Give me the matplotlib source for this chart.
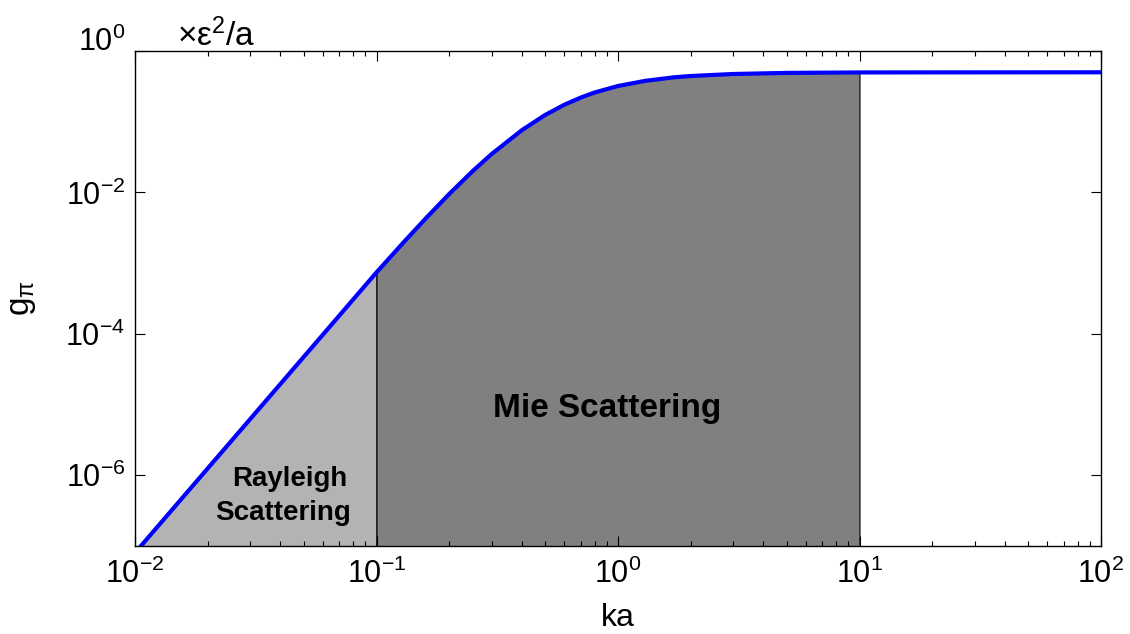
#!/usr/bin/env python3
import numpy as np
import matplotlib
matplotlib.use("Agg")
import matplotlib.pyplot as plt
from matplotlib.ticker import LogLocator, NullLocator, NullFormatter

plt.rcParams['font.family'] = ['Liberation Sans', 'DejaVu Sans']
plt.rcParams['mathtext.fontset'] = 'custom'
plt.rcParams['mathtext.rm'] = 'Liberation Sans'
plt.rcParams['mathtext.it'] = 'Liberation Sans'
plt.rcParams['mathtext.default'] = 'regular'

# --- values (g_pi in units of eps^2/a) ---
ka = [0.01, 0.1, 0.13, 0.16, 0.2, 0.25, 0.3, 0.4, 0.5, 0.6, 0.7, 0.8,
      1.0, 1.3, 1.7, 2.0, 3.0, 5.0, 10.0, 100.0]
g_pi = [8.0e-8, 7.4e-4, 2.0e-3, 4.3e-3, 9.5e-3, 0.020, 0.035, 0.076, 0.125,
        0.174, 0.219, 0.259, 0.32, 0.379, 0.424, 0.443, 0.473, 0.490,
        0.4975, 0.5]

# region limits and labels
rayleigh_range = (0.01, 0.1)
mie_range = (0.1, 10.0)
region_labels = ['Rayleigh', 'Scattering', 'Mie Scattering']

x = np.array(ka)
y = np.array(g_pi)

fig = plt.figure(figsize=(11.3, 6.34), dpi=100)
ax = fig.add_axes([135 / 1130, 88 / 634, 966 / 1130, 495 / 634])

# shaded regions under the curve
m1 = (x >= rayleigh_range[0]) & (x <= rayleigh_range[1])
m2 = (x >= mie_range[0]) & (x <= mie_range[1])
ax.fill_between(x[m1], 1e-9, y[m1], facecolor='#b3b3b3', edgecolor='black',
                linewidth=0.8, zorder=1)
ax.fill_between(x[m2], 1e-9, y[m2], facecolor='#808080', edgecolor='black',
                linewidth=0.8, zorder=1)

ax.plot(x, y, color='#0000ff', linewidth=3.0, zorder=3, solid_capstyle='butt')

ax.set_xscale('log')
ax.set_yscale('log')
ax.set_xlim(1e-2, 1e2)
ax.set_ylim(1e-7, 1e0)

ax.set_yticks([1e-6, 1e-4, 1e-2, 1e0],
              labels=[r'$10^{-6}$', r'$10^{-4}$', r'$10^{-2}$', r'$10^{0}$'])
ax.yaxis.set_minor_locator(NullLocator())
ax.set_xticks([1e-2, 1e-1, 1e0, 1e1, 1e2],
              labels=[r'$10^{-2}$', r'$10^{-1}$', r'$10^{0}$', r'$10^{1}$', r'$10^{2}$'])
ax.xaxis.set_minor_locator(LogLocator(base=10, subs=np.arange(2, 10), numticks=20))
ax.xaxis.set_minor_formatter(NullFormatter())

ax.tick_params(which='both', direction='in', top=True, right=True,
               labelsize=22, width=0.8)
ax.tick_params(which='major', length=7)
ax.tick_params(which='minor', length=3.5)
ax.tick_params(axis='x', pad=9)
ax.tick_params(axis='y', pad=7)
for s in ax.spines.values():
    s.set_linewidth(1.0)

# top y label sits on the axis line, like the reference
ax.yaxis.get_major_ticks()[-1].label1.set_va('baseline')

ax.set_xlabel('ka', fontsize=23)
ax.xaxis.set_label_coords(0.5, -0.115)
ax.set_ylabel(r'g$_{π}$', fontsize=24)
ax.yaxis.set_label_coords(-0.1, 0.5)

ax.text(0.0435, 1.009, r'×ε$^{2}$/a', transform=ax.transAxes, fontsize=24,
        ha='left', va='baseline')

ax.text(0.0438, 7.0e-7, region_labels[0], fontsize=20, fontweight='bold',
        ha='center', va='baseline', zorder=4)
ax.text(0.041, 2.3e-7, region_labels[1], fontsize=20, fontweight='bold',
        ha='center', va='baseline', zorder=4)
ax.text(0.90, 6.7e-6, region_labels[2], fontsize=24, fontweight='bold',
        ha='center', va='baseline', zorder=4)

fig.savefig('out.png', dpi=100)
